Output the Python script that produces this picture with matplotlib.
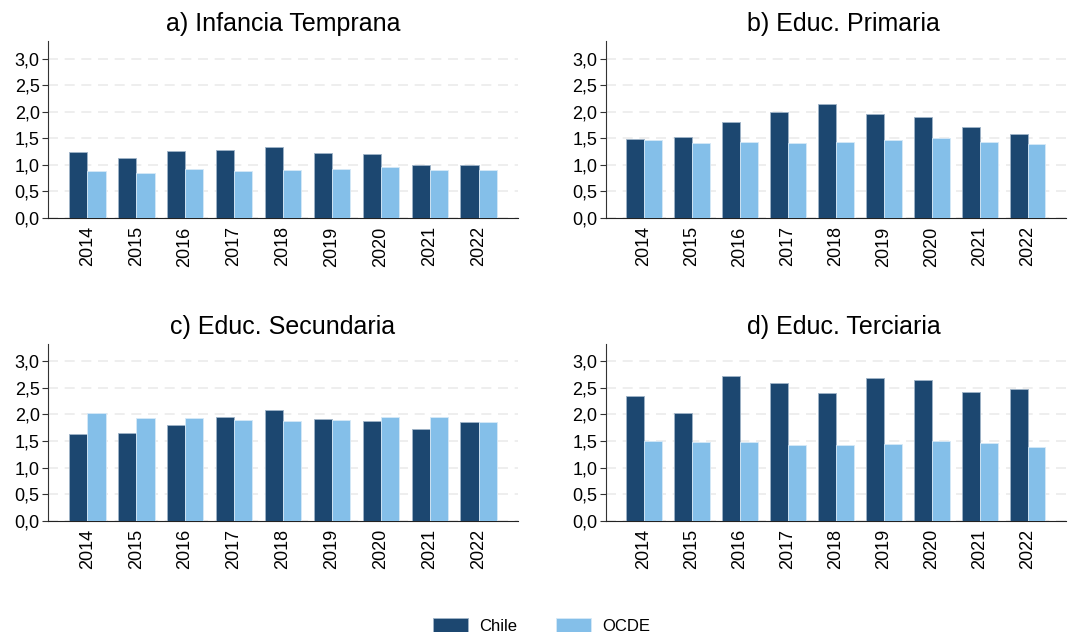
import matplotlib.pyplot as plt
from matplotlib.ticker import FuncFormatter
import numpy as np

plt.rcParams['font.family'] = ['Liberation Sans', 'DejaVu Sans']

years = ["2014", "2015", "2016", "2017", "2018", "2019", "2020", "2021", "2022"]
titles = ["a) Infancia Temprana", "b) Educ. Primaria",
          "c) Educ. Secundaria", "d) Educ. Terciaria"]

chile_a = [1.25, 1.13, 1.27, 1.28, 1.33, 1.22, 1.21, 1.00, 0.99]
ocde_a = [0.88, 0.84, 0.92, 0.89, 0.90, 0.92, 0.96, 0.90, 0.90]
chile_b = [1.49, 1.52, 1.80, 2.00, 2.15, 1.95, 1.90, 1.72, 1.58]
ocde_b = [1.46, 1.41, 1.43, 1.42, 1.44, 1.46, 1.51, 1.44, 1.39]
chile_c = [1.63, 1.65, 1.80, 1.96, 2.08, 1.92, 1.87, 1.73, 1.85]
ocde_c = [2.03, 1.94, 1.93, 1.89, 1.88, 1.89, 1.95, 1.95, 1.86]
chile_d = [2.34, 2.03, 2.72, 2.59, 2.40, 2.69, 2.64, 2.42, 2.48]
ocde_d = [1.50, 1.48, 1.48, 1.42, 1.43, 1.44, 1.50, 1.46, 1.39]

chile_all = [chile_a, chile_b, chile_c, chile_d]
ocde_all = [ocde_a, ocde_b, ocde_c, ocde_d]

DARK = "#1c4770"
LIGHT = "#84bfe9"

fig = plt.figure(figsize=(10.68, 6.32), dpi=100)
# Axes rectangles in figure fractions.
rects = [
    [0.045, 0.655, 0.44, 0.28],
    [0.567, 0.655, 0.431, 0.28],
    [0.045, 0.176, 0.44, 0.28],
    [0.567, 0.176, 0.431, 0.28],
]
# Right-hand titles sit a little right of the axes centre.
title_x = [0.5, 0.517, 0.5, 0.517]

x = np.arange(len(years))
w = 0.375
comma = FuncFormatter(lambda v, pos: f"{v:.1f}".replace(".", ","))

for i in range(4):
    ax = fig.add_axes(rects[i])
    ax.bar(x - w / 2, chile_all[i], w, color=DARK, edgecolor="#9fb4c8",
           linewidth=0.6, label="Chile", zorder=3)
    ax.bar(x + w / 2, ocde_all[i], w, color=LIGHT, edgecolor="#d6e9f7",
           linewidth=0.6, label="OCDE", zorder=3)
    ax.set_xlim(-0.8, 8.8)
    ax.set_ylim(0, 3.33)
    ax.set_yticks(np.arange(0, 3.01, 0.5))
    ax.yaxis.set_major_formatter(comma)
    ax.set_xticks(x)
    ax.set_xticklabels(years, rotation=90)
    ax.tick_params(axis="x", length=0, labelsize=13, pad=6)
    ax.tick_params(axis="y", length=4, labelsize=13, pad=2, color="#333333")
    ax.grid(axis="y", color="#ebebeb", linestyle=(0, (6, 4)), linewidth=1.2,
            zorder=0)
    ax.spines["top"].set_visible(False)
    ax.spines["right"].set_visible(False)
    ax.spines["left"].set_color("#333333")
    ax.spines["bottom"].set_color("#222222")
    ax.set_title(titles[i], fontsize=18, pad=7, x=title_x[i])
    if i == 0:
        handles, labels = ax.get_legend_handles_labels()

fig.legend(handles, labels, loc="center", bbox_to_anchor=(0.507, 0.01),
           ncol=2, frameon=False, fontsize=12, handlelength=2.1,
           handleheight=0.9, columnspacing=2.3, handletextpad=0.7)

fig.savefig("out.png", dpi=100)
